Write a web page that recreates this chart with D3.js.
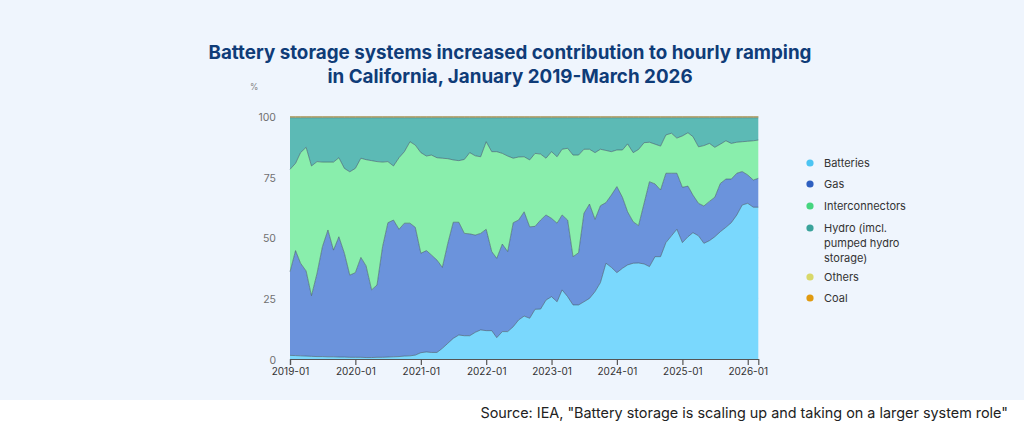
<!DOCTYPE html>
<html><head><meta charset="utf-8">
<script src="https://cdn.jsdelivr.net/npm/d3@7"></script>
<style>
html,body{margin:0;padding:0;background:#fff;}
svg{display:block;font-family:Inter,"Noto Sans",sans-serif;}
</style></head>
<body><svg id="c" width="1024" height="431"></svg>
<script>
const startMonth = "2019-01";
const batteries = [1.5,1.4,1.3,1.2,1.1,1.0,1.0,0.9,0.9,0.8,0.8,0.7,0.7,0.7,0.6,0.6,0.7,0.7,0.8,0.9,1.0,1.2,1.3,1.6,2.6,2.9,2.7,2.7,4.4,6.5,8.5,9.9,9.6,9.6,11.0,12.0,11.7,11.7,8.8,11.3,11.3,13.3,16.1,17.7,16.8,20.5,20.6,24.3,25.7,23.6,28.5,25.7,22.3,22.3,23.6,25.0,27.8,31.5,39.5,37.8,35.6,37.4,38.8,39.5,39.6,39.2,38.1,42.2,42.2,48.0,50.8,53.5,48.0,50.4,52.1,50.8,47.7,48.8,50.4,52.5,54.3,56.2,59.4,63.5,64.2,62.6,62.6];
const gas = [34.5,43.3,38.2,35.1,25.0,34.3,45.3,52.3,44.0,49.6,42.8,33.9,34.9,41.2,37.8,27.9,29.8,45.6,55.4,56.4,52.5,54.8,54.7,52.7,41.0,41.8,40.2,38.1,33.4,41.3,47.9,46.5,42.2,42.0,40.1,39.8,41.8,32.6,32.7,36.1,33.0,42.9,41.2,43.0,37.7,34.2,36.7,35.1,32.3,32.4,30.9,31.6,19.9,21.5,36.5,38.9,29.8,31.7,25.0,29.8,35.5,29.3,21.9,17.1,15.4,25.0,35.0,30.0,27.5,28.6,25.8,23.1,22.8,20.9,15.5,13.4,15.4,16.2,16.3,19.9,19.9,18.0,17.2,13.8,11.7,11.2,11.9];
const interconnectors = [42.2,36.0,45.6,51.0,53.5,46.1,34.9,28.0,36.3,32.6,35.0,42.6,43.0,40.9,43.8,53.3,50.9,34.9,25.2,22.3,29.5,29.5,33.6,33.9,41.5,39.0,41.2,42.2,45.0,34.8,25.7,25.4,30.5,33.5,32.7,31.6,36.1,41.2,44.0,37.4,39.4,26.6,26.0,22.7,27.6,30.1,27.2,23.4,27.5,27.4,27.1,29.6,41.9,40.3,26.4,22.6,27.5,23.3,21.5,17.9,15.1,19.5,28.0,28.5,31.4,25.0,16.3,16.4,18.1,15.8,16.5,14.5,21.2,22.0,24.1,23.3,24.9,23.9,20.6,16.2,15.8,14.7,12.8,12.3,13.9,16.2,15.8];
const hydro = [21.3,18.8,14.4,12.2,19.9,18.1,18.3,18.3,18.3,16.5,20.9,22.3,20.9,16.7,17.3,17.7,18.1,18.3,18.1,19.9,16.5,14.0,9.9,11.3,14.4,15.8,15.4,16.5,16.7,16.9,17.4,17.7,17.2,14.4,15.7,16.1,9.9,14.0,14.0,14.7,15.8,16.7,16.2,16.1,17.4,14.7,15.0,16.7,14.0,16.1,13.0,12.6,15.4,15.4,13.0,13.0,14.4,13.0,13.5,14.0,13.3,13.3,10.8,14.4,13.1,10.3,10.1,10.9,11.7,7.1,6.4,8.4,7.5,6.2,7.8,12.0,11.5,10.6,12.2,10.9,9.5,10.6,10.1,9.9,9.7,9.5,9.2];
const others = batteries.map(() => 0.3);
const coal = batteries.map(() => 0.2);
const seriesNames = ["Batteries","Gas","Interconnectors","Hydro (imcl. pumped hydro storage)","Others","Coal"];
const seriesValues = [batteries, gas, interconnectors, hydro, others, coal];
const yTicks = [0,25,50,75,100];
const titleLines = ["Battery storage systems increased contribution to hourly ramping","in California, January 2019-March 2026"];
const sourceText = 'Source: IEA, "Battery storage is scaling up and taking on a larger system role"';

const areaColors = ["#7ad8fd","#6b93dc","#89eeac","#5cbab5","#e4e48a","#d9b36a"];
const dotColors = ["#4cc4f2","#2e5fc0","#45d57f","#3aa39b","#d8d86a","#e09a10"];

const svg = d3.select("#c");
svg.append("rect").attr("width",1024).attr("height",400).attr("fill","#eff5fd");
svg.append("rect").attr("y",400).attr("width",1024).attr("height",31).attr("fill","#ffffff");

const parse = d3.timeParse("%Y-%m");
const d0 = parse(startMonth);
const data = batteries.map((_, i) => {
  const o = {date: d3.timeMonth.offset(d0, i)};
  seriesNames.forEach((k, j) => o[k] = seriesValues[j][i]);
  return o;
});

const x = d3.scaleTime().domain(d3.extent(data, d => d.date)).range([290, 758.3]);
const y = d3.scaleLinear().domain([0,100]).range([359, 116.5]);

// grid
svg.append("g").selectAll("line").data(yTicks.filter(t => t > 0 && t < 100)).join("line")
  .attr("x1",290).attr("x2",758.3).attr("y1",d=>y(d)).attr("y2",d=>y(d))
  .attr("stroke","#d9e0ea").attr("stroke-width",1);

const stack = d3.stack().keys(seriesNames)(data);
const area = d3.area().x(d => x(d.data.date)).y0(d => y(d[0])).y1(d => y(d[1]));
const line = d3.line().x(d => x(d.data.date)).y(d => y(d[1]));

svg.append("g").selectAll("path").data(stack).join("path")
  .attr("d", area).attr("fill", (d,i) => areaColors[i]);
svg.append("g").selectAll("path").data(stack).join("path")
  .attr("d", line).attr("fill","none")
  .attr("stroke",(d,i)=> i>=4 ? "#a89a66" : "#3f5a66").attr("stroke-width",0.8).attr("stroke-opacity",0.75);

// y axis labels
const ya = svg.append("g").attr("transform","translate(290,0)")
  .call(d3.axisLeft(y).tickValues(yTicks).tickSize(0).tickPadding(14));
ya.select(".domain").remove();
ya.selectAll("text").attr("fill","#707070").attr("font-size",10.5).attr("font-family","Inter, sans-serif").attr("dy","0.4em");
svg.append("text").attr("x",250).attr("y",90).attr("fill","#808080").attr("font-size",8.5).text("%");

// x axis
const xa = svg.append("g").attr("transform","translate(0,359)")
  .call(d3.axisBottom(x).ticks(d3.timeYear.every(1)).tickFormat(d3.timeFormat("%Y-%m")).tickSizeOuter(0).tickSize(6).tickPadding(3));
xa.select(".domain").attr("stroke","#555").attr("stroke-width",1.2);
xa.selectAll(".tick line").attr("stroke","#555").attr("stroke-width",1.2);
xa.selectAll("text").attr("fill","#333").attr("font-size",10).attr("font-family","Inter, sans-serif");

// title
svg.append("g").selectAll("text").data(titleLines).join("text")
  .attr("x",510).attr("y",(d,i)=>59 + i*24).attr("text-anchor","middle")
  .attr("fill","#0f3c78").attr("font-size",18.8).attr("font-weight",700)
  .attr("font-family","Inter, sans-serif").text(d=>d);

// legend
const legY = [163,184,206,228,277,298];
const leg = svg.append("g");
seriesNames.forEach((n,i) => {
  leg.append("circle").attr("cx",810).attr("cy",legY[i]).attr("r",3.6).attr("fill",dotColors[i]);
  const t = leg.append("text").attr("x",824).attr("y",legY[i]).attr("dy","0.35em")
    .attr("fill","#333").attr("font-size",11).attr("font-family","Inter, sans-serif");
  if (i === 3) {
    ["Hydro (imcl.","pumped hydro","storage)"].forEach((s,k)=> t.append("tspan").attr("x",824).attr("dy", k===0 ? "0.35em" : "1.35em").text(s));
  } else t.text(n);
});

svg.append("text").attr("x",1008).attr("y",418).attr("text-anchor","end")
  .attr("fill","#222").attr("font-size",14.4).attr("font-family","Inter, sans-serif").text(sourceText);
</script></body></html>
